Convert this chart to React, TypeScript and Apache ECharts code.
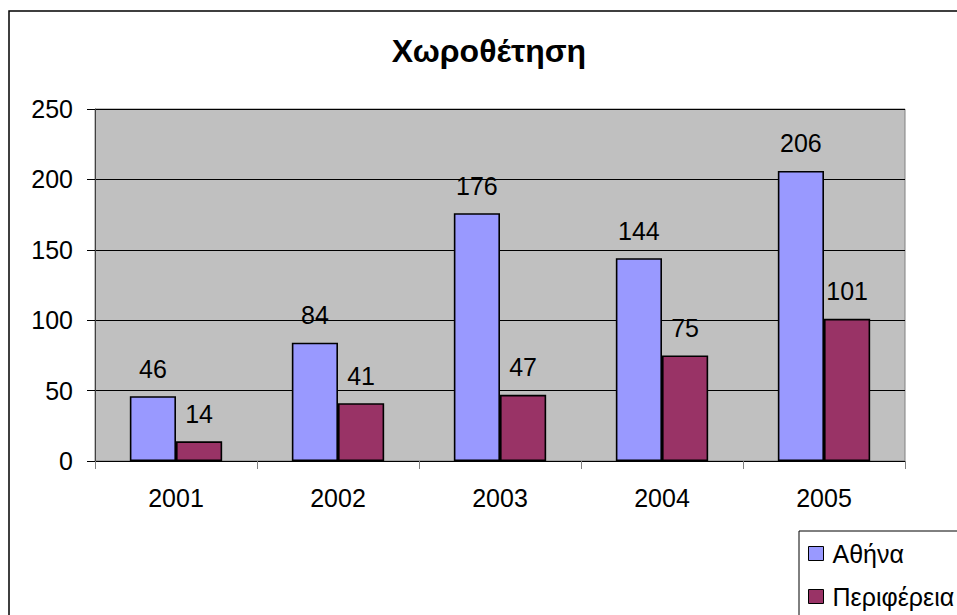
import React, { useEffect, useRef } from "react";
import * as echarts from "echarts";

const categories = ["2001", "2002", "2003", "2004", "2005"];
const athinaValues = [46, 84, 176, 144, 206];
const periferiaValues = [14, 41, 47, 75, 101];
const seriesNames = ["Αθήνα", "Περιφέρεια"];
const titleText = "Χωροθέτηση";

const FONT = "'Liberation Sans', Arial, sans-serif";

export default function App() {
  const ref = useRef<HTMLDivElement>(null);
  useEffect(() => {
    if (!ref.current) return;
    const chart = echarts.init(ref.current, null, { renderer: "svg" });
    const label = {
      show: true,
      position: "top",
      distance: 15,
      color: "#000",
      fontSize: 25,
      fontFamily: FONT,
    };
    chart.setOption({
      animation: false,
      backgroundColor: "#fff",
      textStyle: { fontFamily: FONT },
      graphic: [
        {
          type: "rect",
          z: 0,
          silent: true,
          shape: { x: 9, y: 11, width: 1000, height: 700 },
          style: { fill: "none", stroke: "#000", lineWidth: 1.5 },
        },
        {
          type: "rect",
          z: 1,
          shape: { x: 799, y: 531, width: 200, height: 200 },
          style: { fill: "#fff", stroke: "#000", lineWidth: 1 },
        },
        {
          type: "text",
          z: 2,
          x: 489,
          y: 51,
          style: {
            text: titleText,
            fill: "#000",
            font: `bold 32px ${FONT}`,
            textAlign: "center",
            textVerticalAlign: "middle",
          },
        },
      ],
      legend: {
        orient: "vertical",
        left: 808,
        top: 541,
        padding: 0,
        itemWidth: 15,
        itemHeight: 14,
        itemGap: 18,
        icon: "rect",
        z: 10,
        textStyle: { fontSize: 25, color: "#000", fontFamily: FONT, padding: [0, 0, 0, 4] },
        itemStyle: { borderColor: "#000", borderWidth: 1 },
        data: seriesNames,
      },
      grid: {
        left: 95,
        top: 109,
        right: 52,
        bottom: 154,
        show: true,
        backgroundColor: "#C0C0C0",
        borderColor: "#808080",
        borderWidth: 1,
        containLabel: false,
      },
      xAxis: {
        type: "category",
        data: categories,
        axisLine: { show: true, lineStyle: { color: "#000", width: 1 } },
        axisTick: { show: true, length: 8, lineStyle: { color: "#808080" } },
        axisLabel: { color: "#000", fontSize: 25, margin: 24, fontFamily: FONT },
        splitLine: { show: false },
      },
      yAxis: {
        type: "value",
        min: 0,
        max: 250,
        interval: 50,
        axisLine: { show: true, lineStyle: { color: "#404040", width: 1 } },
        axisTick: { show: true, length: 8, lineStyle: { color: "#000" } },
        axisLabel: { color: "#000", fontSize: 25, margin: 22, fontFamily: FONT },
        splitLine: { show: true, lineStyle: { color: "#000", width: 1 } },
      },
      series: [
        {
          name: seriesNames[0],
          type: "bar",
          data: athinaValues,
          barGap: "0%",
          barCategoryGap: "43%",
          itemStyle: { color: "#9999FF", borderColor: "#000", borderWidth: 1.6 },
          label,
        },
        {
          name: seriesNames[1],
          type: "bar",
          data: periferiaValues,
          barGap: "0%",
          barCategoryGap: "43%",
          itemStyle: { color: "#993366", borderColor: "#000", borderWidth: 1.6 },
          label,
        },
      ],
    });
    return () => chart.dispose();
  }, []);
  return (
    <div
      ref={ref}
      style={{ position: "fixed", left: 0, top: 0, width: 957, height: 615 }}
    />
  );
}
